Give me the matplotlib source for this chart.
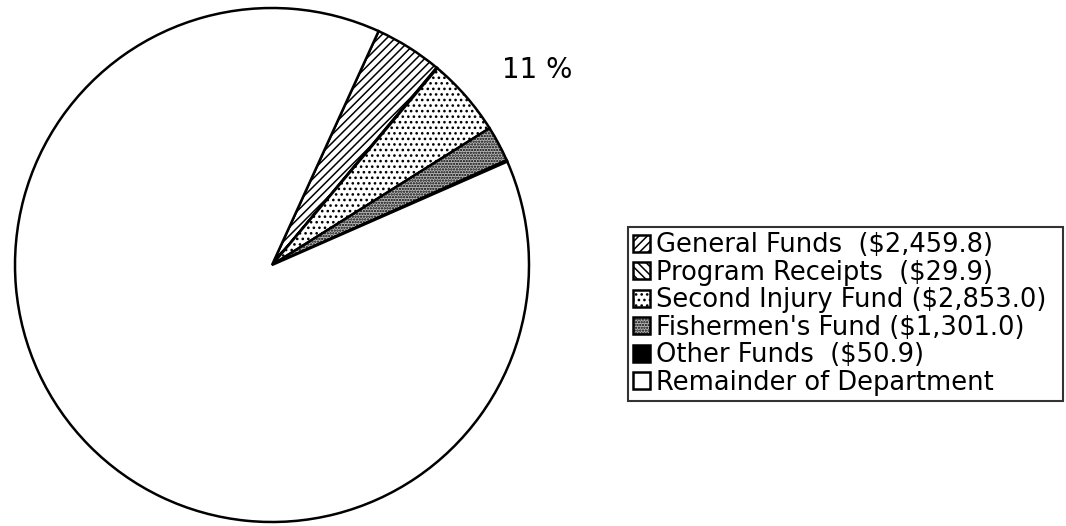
import matplotlib
matplotlib.use("Agg")
import matplotlib.pyplot as plt

labels = ["General Funds  ($2,459.8)", "Program Receipts  ($29.9)",
          "Second Injury Fund ($2,853.0)", "Fishermen's Fund ($1,301.0)",
          "Other Funds  ($50.9)", "Remainder of Department"]
values = [2459.8, 29.9, 2853.0, 1301.0, 50.9, 51000.0]
hatches = ["////", "\\\\\\\\", "...", "......", None, None]
faces = ["white", "white", "white", "#b8b8b8", "black", "white"]
share_label = "11 %"

plt.rcParams['font.family'] = ['DejaVu Sans']
plt.rcParams['hatch.linewidth'] = 1.1

W, H = 1066, 526
fig = plt.figure(figsize=(W / 100, H / 100), dpi=100)
ax = fig.add_axes([0, 0, 1, 1])

wedges, _ = ax.pie(values, startangle=65.5, counterclock=False,
                   center=(272, H - 265), radius=257,
                   wedgeprops=dict(edgecolor='black', linewidth=1.8))
for w, h, fc in zip(wedges, hatches, faces):
    w.set_facecolor(fc)
    if h:
        w.set_hatch(h)

ax.set_xlim(0, W)
ax.set_ylim(0, H)
ax.set_aspect('equal')
ax.axis('off')

ax.text(537, H - 70, share_label, fontsize=20, ha='center', va='center')

leg_left, leg_top, leg_right = 628, 227, 1063
leg = ax.legend(wedges, labels, loc='upper left', mode='expand',
                bbox_to_anchor=(leg_left / W, 1 - leg_top / H, (leg_right - leg_left) / W, 0.0),
                bbox_transform=fig.transFigure,
                fontsize=18.5, frameon=True, fancybox=False, edgecolor='black',
                handlelength=0.65, handleheight=0.65, handletextpad=0.25,
                labelspacing=0.06, borderpad=0.2, borderaxespad=0)
leg.get_frame().set_linewidth(1.5)

fig.savefig("out.png", dpi=100)
